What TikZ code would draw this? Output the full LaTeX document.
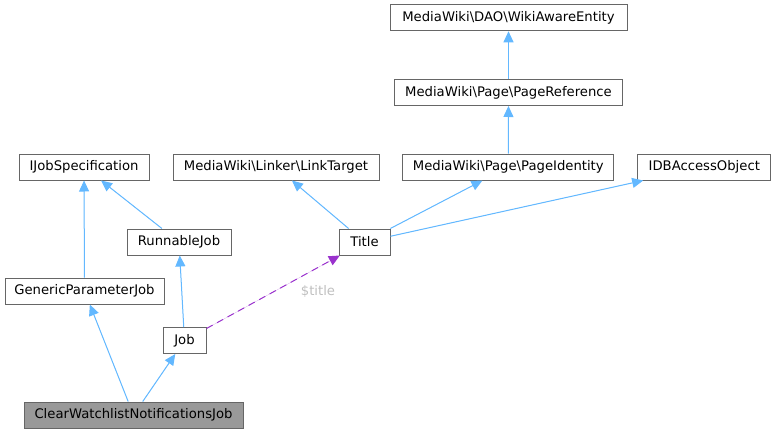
\documentclass[tikz,border=0pt]{standalone}
\usepackage{fontspec}
\setmainfont{DejaVu Sans}
\usepackage{xcolor}
\usepackage{tikz}
\usetikzlibrary{arrows.meta}
\definecolor{edgeblue}{HTML}{63B8FF}
\definecolor{reforchid}{HTML}{9A32CD}
\definecolor{boxgray}{HTML}{666666}
\definecolor{fillgray}{HTML}{999999}

\begin{document}
\begin{tikzpicture}[x=1pt,y=-1pt,>={Triangle[length=11pt,width=10pt]},
  cls/.style={draw=boxgray,line width=1pt,fill=white,minimum height=26pt,inner sep=0pt,font=\fontsize{13.2}{15}\selectfont},
  inh/.style={->,draw=edgeblue,fill=edgeblue,line width=1pt},
  uses/.style={->,draw=reforchid,fill=reforchid,line width=1pt,dash pattern=on 7pt off 5pt}]
  \useasboundingbox (0,0) rectangle (776,433);
  % class boxes
  \node[cls,minimum width=237pt] (wae) at (508.5,17.8) {MediaWiki\textbackslash DAO\textbackslash WikiAwareEntity};
  \node[cls,minimum width=228pt] (pref) at (508.5,92.5) {MediaWiki\textbackslash Page\textbackslash PageReference};
  \node[cls,minimum width=211pt] (pid) at (508.3,167) {MediaWiki\textbackslash Page\textbackslash PageIdentity};
  \node[cls,minimum width=133pt] (idb) at (704.3,167) {IDBAccessObject};
  \node[cls,minimum width=206pt] (lt) at (276,167) {MediaWiki\textbackslash Linker\textbackslash LinkTarget};
  \node[cls,minimum width=130pt] (ijs) at (84,167) {IJobSpecification};
  \node[cls,minimum width=104pt] (rj) at (179,242) {RunnableJob};
  \node[cls,minimum width=51pt] (title) at (364.5,242) {Title};
  \node[cls,minimum width=159pt] (gpj) at (84.5,291) {GenericParameterJob};
  \node[cls,minimum width=43pt] (job) at (184.5,340.5) {Job};
  \node[cls,minimum width=219pt,fill=fillgray] (cw) at (133.5,415) {ClearWatchlistNotificationsJob};
  % inheritance
  \draw[inh] (pref) -- (wae);
  \draw[inh] (pid) -- (pref);
  \draw[inh] (title) -- (lt);
  \draw[inh] (title) -- (pid);
  \draw[inh] (title) -- (idb);
  \draw[inh] (rj) -- (ijs);
  \draw[inh] (gpj) -- (ijs);
  \draw[inh] (job) -- (rj);
  \draw[inh] (cw) -- (gpj);
  \draw[inh] (cw) -- (job);
  % member reference
  \draw[uses] (job) -- (title);
  \node[text=black!25,font=\fontsize{13.2}{15}\selectfont] (lbl) at (318,291) {\$title};
\end{tikzpicture}
\end{document}
